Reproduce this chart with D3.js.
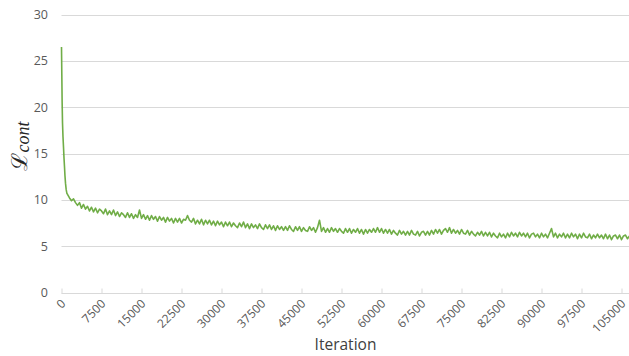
<!DOCTYPE html>
<html>
<head>
<meta charset="utf-8">
<script src="https://cdn.jsdelivr.net/npm/d3@7"></script>
<style>
  html, body { margin: 0; padding: 0; background: #fff; }
  svg { display: block; }
</style>
</head>
<body>
<svg width="629" height="356"></svg>
<script>
// y axis ticks
const yTicks = [0, 5, 10, 15, 20, 25, 30];

// x axis tick labels (iterations)
const xTicks = [0, 7500, 15000, 22500, 30000, 37500, 45000, 52500, 60000,
  67500, 75000, 82500, 90000, 97500, 105000];

// first steps: fast drop of the loss
const headIter = [0, 60, 120, 190, 280, 375, 470, 560, 650, 750, 880, 1010];
const headLoss = [26.5, 23.5, 20.5, 18.3, 16.8, 15.7, 14.5, 13.6, 12.6, 11.8, 11.1, 10.7];

// rest of training, one reading every 375 iterations from 1125
const tailStart = 1125;
const tailStep = 375;
const tailLoss = [
  10.6, 10.2, 9.9, 10.1, 9.7,
  9.4, 9.7, 9.1, 9.5, 9.0,
  9.3, 8.8, 9.2, 8.7, 9.1,
  8.6, 9.0, 8.8, 8.5, 9.0,
  8.4, 8.8, 8.4, 8.9, 8.3,
  8.7, 8.2, 8.6, 8.4, 8.1,
  8.6, 8.1, 8.5, 8.0, 8.4,
  8.1, 8.9, 8.0, 8.4, 7.9,
  8.3, 7.8, 8.3, 7.9, 8.2,
  7.7, 8.2, 7.8, 8.1, 7.6,
  8.1, 7.7, 8.0, 7.5, 8.0,
  7.6, 8.0, 7.5, 7.9, 7.8,
  8.3, 7.8, 7.6, 8.0, 7.4,
  7.8, 7.4, 7.9, 7.3, 7.8,
  7.4, 7.8, 7.3, 7.7, 7.2,
  7.7, 7.3, 7.6, 7.1, 7.6,
  7.2, 7.6, 7.1, 7.5, 7.2,
  7.0, 7.5, 7.1, 7.6, 7.0,
  7.4, 6.9, 7.4, 7.0, 7.3,
  6.9, 7.4, 7.0, 6.8, 7.3,
  6.9, 7.3, 6.8, 7.2, 6.7,
  7.2, 6.8, 7.1, 6.7, 7.1,
  6.7, 7.2, 6.8, 6.6, 7.1,
  6.7, 7.1, 6.6, 7.0, 6.7,
  6.6, 7.1, 6.7, 7.0, 6.5,
  7.0, 7.8, 6.6, 7.0, 6.5,
  6.9, 6.5, 7.0, 6.6, 6.9,
  6.5, 6.9, 6.6, 6.4, 6.9,
  6.5, 6.9, 6.4, 6.8, 6.5,
  6.9, 6.4, 6.8, 6.3, 6.8,
  6.4, 6.8, 6.5, 6.9, 6.5,
  7.0, 6.5, 6.9, 6.4, 6.8,
  6.4, 6.8, 6.3, 6.7, 6.4,
  6.2, 6.7, 6.3, 6.6, 6.2,
  6.6, 6.2, 6.7, 6.3, 6.2,
  6.6, 6.1, 6.5, 6.6, 6.2,
  6.6, 6.2, 6.7, 6.3, 6.8,
  6.4, 6.8, 6.3, 6.7, 6.9,
  6.5, 7.0, 6.4, 6.8, 6.4,
  6.7, 6.3, 6.8, 6.4, 6.3,
  6.7, 6.2, 6.6, 6.3, 6.1,
  6.5, 6.2, 6.6, 6.1, 6.5,
  6.1, 6.5, 6.0, 6.4, 6.1,
  5.9, 6.4, 6.0, 6.3, 5.9,
  6.4, 6.0, 6.5, 6.1, 6.4,
  6.0, 6.5, 6.1, 6.4, 6.0,
  6.4, 5.9, 6.3, 6.4, 6.0,
  6.3, 5.9, 6.4, 6.0, 6.3,
  5.9, 6.4, 6.9, 6.0, 6.4,
  5.9, 6.3, 6.0, 6.4, 5.9,
  6.3, 5.9, 6.4, 6.0, 6.3,
  5.8, 6.3, 5.9, 6.4, 6.0,
  5.9, 6.3, 5.8, 6.2, 5.9,
  6.3, 5.9, 6.2, 5.8, 6.3,
  5.8, 6.2, 5.7, 6.1, 6.2,
  5.8, 6.2, 5.7, 6.1, 6.2,
  5.8, 6.1
];

const points = headIter.map((it, i) => [it, headLoss[i]])
  .concat(tailLoss.map((v, i) => [tailStart + i * tailStep, v]));

const svg = d3.select("svg");

const plotLeft = 61.5, plotRight = 629.5, plotTop = 14.5, plotBottom = 292.5;

const x = d3.scaleLinear().domain([0, 106500]).range([plotLeft, plotRight]);
const y = d3.scaleLinear().domain([0, 30]).range([plotBottom, plotTop]);

// gridlines
svg.append("g")
  .selectAll("line")
  .data(yTicks.filter(d => d > 0))
  .join("line")
  .attr("x1", plotLeft)
  .attr("x2", plotRight)
  .attr("y1", d => Math.round(y(d)) + 0.5)
  .attr("y2", d => Math.round(y(d)) + 0.5)
  .attr("stroke", "#d9d9d9")
  .attr("stroke-width", 1);

// y labels
svg.append("g")
  .selectAll("text")
  .data(yTicks)
  .join("text")
  .attr("x", 48)
  .attr("y", d => y(d))
  .attr("dy", "0.35em")
  .attr("text-anchor", "end")
  .attr("font-family", "Open Sans, sans-serif")
  .attr("font-size", 12.5)
  .attr("fill", "#595959")
  .text(d => d);

// x axis
const xAxis = svg.append("g")
  .attr("transform", `translate(0,${Math.round(plotBottom) + 0.5})`)
  .call(d3.axisBottom(x).tickValues(xTicks).tickSize(-5).tickFormat(""));
xAxis.select(".domain").attr("stroke", "#d9d9d9").attr("d", `M${plotLeft},0H${plotRight}`);
xAxis.selectAll(".tick line").attr("stroke", "#d9d9d9");

// rotated x labels
svg.append("g")
  .selectAll("text")
  .data(xTicks)
  .join("text")
  .attr("transform", d => `translate(${x(d) + 2},${plotBottom + 9}) rotate(-45)`)
  .attr("text-anchor", "end")
  .attr("dy", "0.35em")
  .attr("font-family", "Open Sans, sans-serif")
  .attr("font-size", 12)
  .attr("fill", "#595959")
  .text(d => d);

// loss curve
svg.append("path")
  .datum(points)
  .attr("d", d3.line().x(d => x(d[0])).y(d => y(d[1])))
  .attr("fill", "none")
  .attr("stroke", "#70ad47")
  .attr("stroke-width", 1.6)
  .attr("stroke-linejoin", "round");

// axis titles
svg.append("text")
  .attr("x", (plotLeft + plotRight) / 2)
  .attr("y", 350)
  .attr("text-anchor", "middle")
  .attr("font-family", "Open Sans, sans-serif")
  .attr("font-size", 15.5)
  .attr("fill", "#404040")
  .text("Iteration");

const yTitle = svg.append("text")
  .attr("transform", "translate(27,146) rotate(-90)")
  .attr("text-anchor", "middle")
  .attr("fill", "#262626");
yTitle.append("tspan")
  .attr("font-family", "DejaVu Serif, serif")
  .attr("font-size", 22)
  .text("ℒ");
yTitle.append("tspan")
  .attr("font-family", "Liberation Serif, serif")
  .attr("font-style", "italic")
  .attr("font-size", 18)
  .attr("dy", 2)
  .text("cont");
</script>
</body>
</html>
